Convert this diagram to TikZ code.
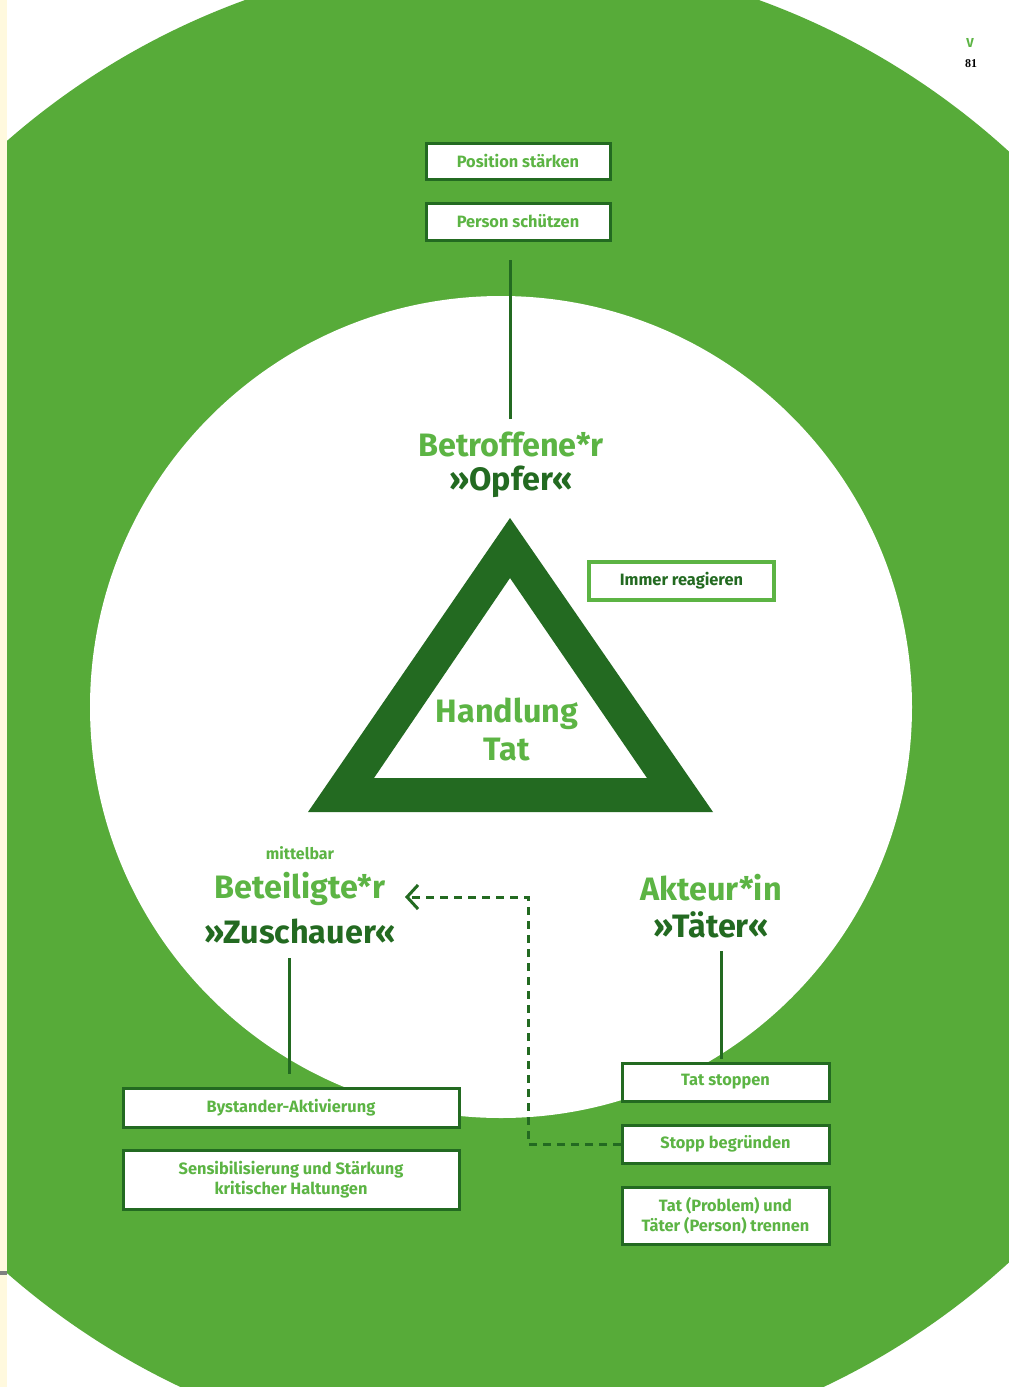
\documentclass[tikz,border=0pt]{standalone}
\usepackage{fontspec}
\setmainfont{Fira Sans}
\newfontfamily\serifnum{Liberation Serif}
\usetikzlibrary{arrows.meta,calc}
\definecolor{bg}{RGB}{87,171,57}
\definecolor{dk}{RGB}{35,106,33}
\definecolor{lt}{RGB}{92,180,68}
\definecolor{cream}{RGB}{255,249,222}
\tikzset{
  bigt/.style={font=\fontsize{32.4}{36}\selectfont\bfseries, inner sep=0pt},
  boxt/.style={draw=dk, line width=3pt, fill=white, inner sep=0pt, align=center,
    text=lt, font=\fontsize{16.4}{20}\selectfont\bfseries},
  conn/.style={draw=dk, line width=3pt},
  dashconn/.style={draw=dk, line width=3pt, dash pattern=on 8pt off 6pt},
}
\begin{document}
\begin{tikzpicture}[x=1pt,y=-1pt]
\useasboundingbox (0,0) rectangle (1009,1387);
\fill[white] (0,0) rectangle (1009,1387);
\fill[bg] (502,707) circle (752);
\fill[white] (501,707) circle (411);
\fill[cream] (0,0) rectangle (7,1387);
\fill[gray] (0,1271) rectangle (7,1275);

% triangle
\fill[dk,even odd rule] (510,518) -- (713,812) -- (308,812) -- cycle
  (510,578) -- (647,778) -- (374,778) -- cycle;

% page marks
\node[text=lt, font=\fontsize{13}{14}\selectfont\bfseries, inner sep=0pt] (pv) at (970,43) {V};
\node[text=black, font=\serifnum\bfseries\fontsize{12}{13}\selectfont, inner sep=0pt] (pn) at (971,64) {81};

% top
\node[boxt, minimum width=184pt, minimum height=36pt] (pos) at (518,161) {Position stärken};
\node[boxt, minimum width=184pt, minimum height=37pt] (ps) at (518,221.5) {Person schützen};
\node[bigt, text=lt] (betr) at (511,444) {Betroffene*r};
\node[bigt, text=dk] (opfer) at (511,482) {»Opfer«};
\draw[conn, shorten >=18pt] ([xshift=-1pt,yshift=12pt]betr.north) -- ([xshift=-1pt]betr.north |- ps.south);

\node[draw=lt, line width=3.5pt, fill=white, minimum width=185pt, minimum height=38pt, inner sep=0pt,
  text=dk, font=\fontsize{16.4}{20}\selectfont\bfseries] (immer) at (681.5,581) {Immer reagieren};

\node[bigt, text=lt] (hand) at (507,714) {Handlung};
\node[bigt, text=lt] (tat) at (507,750) {Tat};

% left
\node[text=lt, font=\fontsize{16}{18}\selectfont\bfseries, inner sep=0pt] (mitt) at (300,853) {mittelbar};
\node[bigt, text=lt] (betei) at (300,889) {Beteiligte*r};
\node[bigt, text=dk] (zus) at (300,931) {»Zuschauer«};
\node[boxt, minimum width=336pt, minimum height=39pt] (bys) at (291,1107.5) {Bystander-Aktivierung};
\node[boxt, minimum width=336pt, minimum height=59pt] (sens) at (291,1180) {Sensibilisierung und Stärkung\\kritischer Haltungen};
\draw[conn, shorten >=14pt] ([xshift=-2pt,yshift=13pt]bys.north) -- ([xshift=-2pt]bys.north |- zus.south);

% right
\node[bigt, text=lt] (akt) at (711,888) {Akteur*in};
\node[bigt, text=dk] (taet) at (711,925) {»Täter«};
\node[boxt, minimum width=207pt, minimum height=38pt] (stop) at (725.5,1082) {Tat stoppen};
\node[boxt, minimum width=207pt, minimum height=38pt] (begr) at (725.5,1144) {Stopp begründen};
\node[boxt, minimum width=207pt, minimum height=57pt] (trenn) at (725.5,1215.5) {Tat (Problem) und\\Täter (Person) trennen};
\draw[conn, shorten >=13pt] ([xshift=-4.5pt,yshift=3pt]stop.north) -- ([xshift=-4.5pt]stop.north |- taet.south);

% dashed arrow
\coordinate (corner) at (528,897);
\coordinate (tip) at (405,897);
\draw[dashconn, -{Straight Barb[length=11pt,width=24pt,line width=3pt]}] (begr.west) -| (corner) -- (tip);
\end{tikzpicture}
\end{document}
